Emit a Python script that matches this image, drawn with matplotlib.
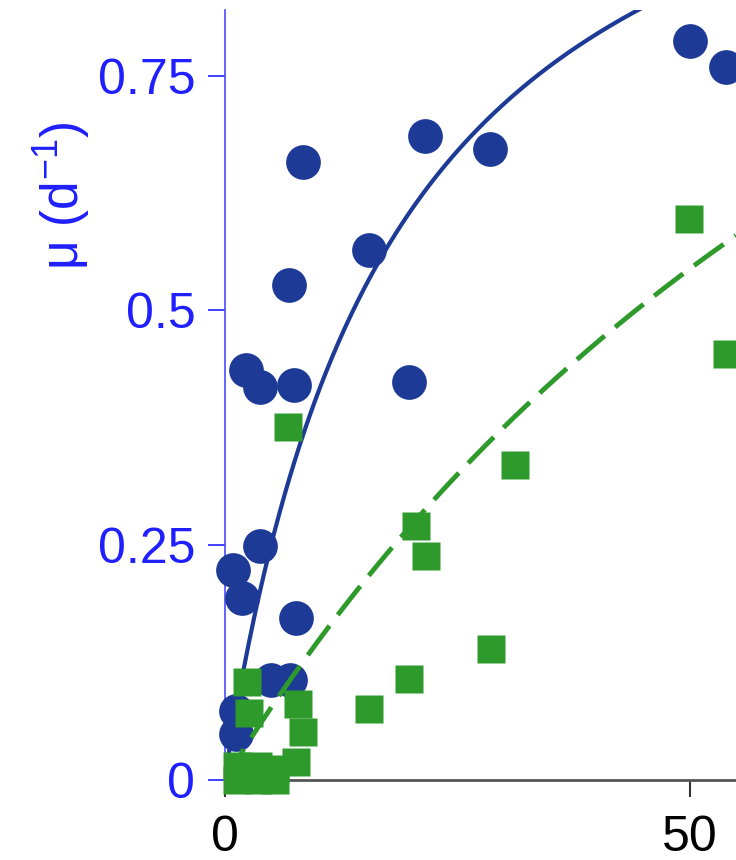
import numpy as np
import matplotlib
matplotlib.use("Agg")
import matplotlib.pyplot as plt

plt.rcParams['font.family'] = ['Liberation Sans', 'DejaVu Sans']
plt.rcParams['mathtext.fontset'] = 'custom'
plt.rcParams['mathtext.rm'] = 'Liberation Sans'
plt.rcParams['mathtext.it'] = 'Liberation Sans'

# --- data ---
blue_x = [50.0, 53.9, 21.6, 28.6, 8.4, 15.5, 6.9, 2.3, 3.8, 7.5, 19.8,
          3.8, 0.9, 1.9, 7.7, 5.0, 7.0, 1.2, 1.2]
blue_y = [0.787, 0.759, 0.686, 0.672, 0.658, 0.564, 0.527, 0.437, 0.419, 0.421, 0.424,
          0.249, 0.224, 0.194, 0.173, 0.107, 0.107, 0.074, 0.049]

green_x = [49.9, 54.0, 6.8, 31.2, 20.6, 21.7, 28.7, 19.8, 15.5,
           2.4, 2.6, 7.9, 8.4, 1.3, 1.3, 3.6, 3.6, 5.4, 5.4, 7.7]
green_y = [0.597, 0.454, 0.376, 0.335, 0.271, 0.239, 0.140, 0.108, 0.076,
           0.104, 0.071, 0.081, 0.051, 0.015, 0.000, 0.015, 0.000, 0.012, 0.000, 0.019]

# Monod fit parameters (mu = mu_max * S / (Ks + S))
blue_mumax, blue_ks = 1.153, 18.06
green_mumax, green_ks = 1.674, 103.8

x_ticks = [0, 50]
x_ticklabels = ['0', '50']
y_ticks = [0, 0.25, 0.5, 0.75]
y_ticklabels = ['0', '0.25', '0.5', '0.75']

BLUE = '#1c3a96'
GREEN = '#2f9a2c'
AXBLUE = '#1f1fff'

fig = plt.figure(figsize=(7.36, 8.6), dpi=100)
ax = fig.add_axes([224.5 / 736, 80 / 860, 511.5 / 736, 770 / 860])
ax.set_xlim(0, 55)
ax.set_ylim(0, 0.82)

s = np.linspace(0, 55, 400)
ax.plot(blue_x, blue_y, 'o', ms=25, color=BLUE, mec='none', clip_on=False, zorder=3)
ax.plot(s, blue_mumax * s / (blue_ks + s), '-', color=BLUE, lw=3.0, zorder=4)
ax.plot(green_x, green_y, 's', ms=20, color=GREEN, mec='none', clip_on=False, zorder=5)
ax.plot(s, green_mumax * s / (green_ks + s), color=GREEN, lw=3.5, zorder=6,
        dashes=(7.5, 2.8))

for sp in ['top', 'right']:
    ax.spines[sp].set_visible(False)
ax.spines['left'].set_color('#4a4aff')
ax.spines['left'].set_linewidth(1.2)
ax.spines['bottom'].set_color('#555555')
ax.spines['bottom'].set_linewidth(2.0)

ax.set_xticks(x_ticks)
ax.set_xticklabels(x_ticklabels)
ax.set_yticks(y_ticks)
ax.set_yticklabels(y_ticklabels)

ax.tick_params(axis='y', colors=AXBLUE, length=12, width=1.2, pad=9, labelsize=36)
ax.tick_params(axis='x', color='#333333', labelcolor='black', length=12, width=1.5,
               pad=13, labelsize=36)

fig.text(62 / 736, 1 - 196 / 860, r'μ (d$^{-1}$)', rotation=90, ha='center', va='center',
         color=AXBLUE, fontsize=37)

fig.savefig('out.png', dpi=100)
